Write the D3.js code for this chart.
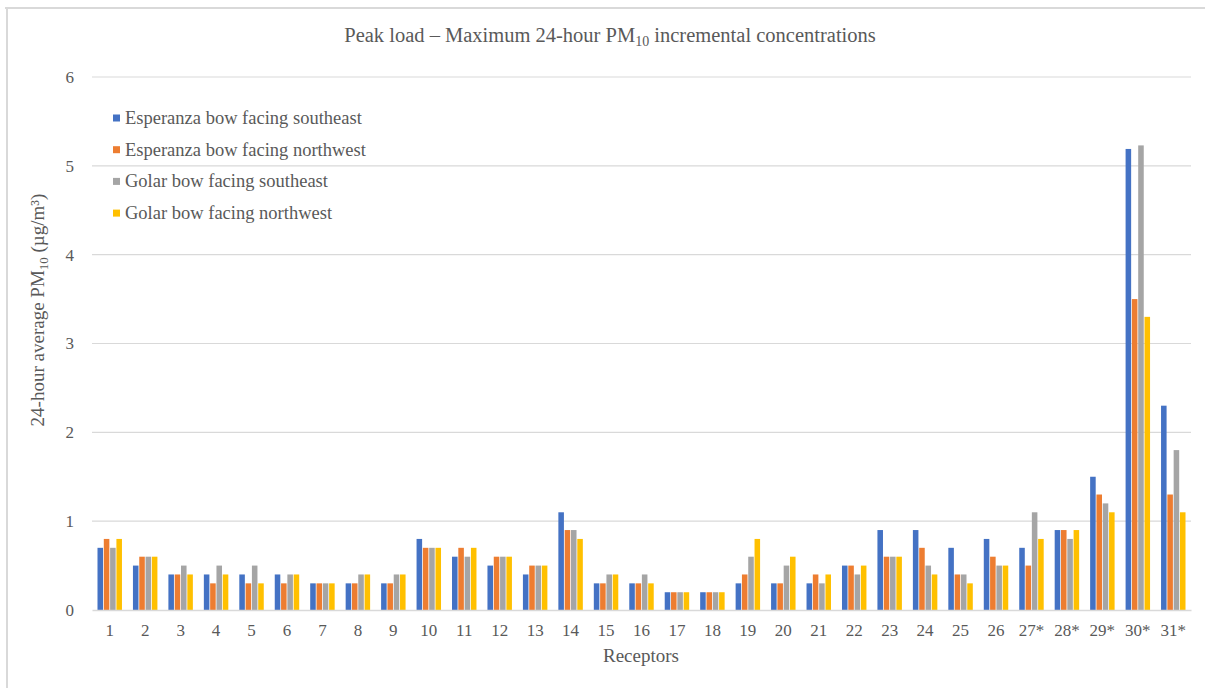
<!DOCTYPE html>
<html><head><meta charset="utf-8">
<script src="https://cdn.jsdelivr.net/npm/d3@7"></script>
<style>body{margin:0;background:#fff}svg{display:block}svg text{font-family:"Liberation Serif","DejaVu Serif",serif}</style>
</head><body>
<svg id="c" width="1205" height="688"></svg>
<script>
const categories = ["1","2","3","4","5","6","7","8","9","10","11","12","13","14","15","16","17","18","19","20","21","22","23","24","25","26","27*","28*","29*","30*","31*"];
const seriesNames = ["Esperanza bow facing southeast","Esperanza bow facing northwest","Golar bow facing southeast","Golar bow facing northwest"];
const esperanzaSE = [0.7,0.5,0.4,0.4,0.4,0.4,0.3,0.3,0.3,0.8,0.6,0.5,0.4,1.1,0.3,0.3,0.2,0.2,0.3,0.3,0.3,0.5,0.9,0.9,0.7,0.8,0.7,0.9,1.5,5.19,2.3];
const esperanzaNW = [0.8,0.6,0.4,0.3,0.3,0.3,0.3,0.3,0.3,0.7,0.7,0.6,0.5,0.9,0.3,0.3,0.2,0.2,0.4,0.3,0.4,0.5,0.6,0.7,0.4,0.6,0.5,0.9,1.3,3.5,1.3];
const golarSE     = [0.7,0.6,0.5,0.5,0.5,0.4,0.3,0.4,0.4,0.7,0.6,0.6,0.5,0.9,0.4,0.4,0.2,0.2,0.6,0.5,0.3,0.4,0.6,0.5,0.4,0.5,1.1,0.8,1.2,5.23,1.8];
const golarNW     = [0.8,0.6,0.4,0.4,0.3,0.4,0.3,0.4,0.4,0.7,0.7,0.6,0.5,0.8,0.4,0.3,0.2,0.2,0.8,0.6,0.4,0.5,0.6,0.4,0.3,0.5,0.8,0.9,1.1,3.3,1.1];
const yTicks = [0,1,2,3,4,5,6];
const colors = ["#4472C4","#ED7D31","#A5A5A5","#FFC000"];

(function(){
const seriesValues = [esperanzaSE, esperanzaNW, golarSE, golarNW];
const svg = d3.select("#c");
const textCol = "#595959";

// frame
svg.append("line").attr("x1",5).attr("x2",1205).attr("y1",8).attr("y2",8).attr("stroke","#d9d9d9").attr("stroke-width",2);
svg.append("line").attr("x1",7).attr("x2",7).attr("y1",8).attr("y2",688).attr("stroke","#d9d9d9").attr("stroke-width",2);

const pL = 92, pR = 1191, pT = 77, pB = 610;
const x = d3.scaleBand().domain(categories).range([pL, pR]).paddingInner(0.31).paddingOuter(0.155);
const xs = d3.scaleBand().domain(d3.range(4)).range([0, x.bandwidth()]).paddingInner(0.12);
const y = d3.scaleLinear().domain([0,6]).range([pB, pT]);

// gridlines
svg.append("g").selectAll("line").data(yTicks.filter(d=>d>0)).join("line")
  .attr("x1",pL).attr("x2",pR).attr("y1",d=>y(d)).attr("y2",d=>y(d))
  .attr("stroke","#d9d9d9").attr("stroke-width",1.2);

// y axis labels
const yAxis = d3.axisLeft(y).tickValues(yTicks).tickSize(0).tickPadding(18).tickFormat(d3.format("d"));
const ga = svg.append("g").attr("transform",`translate(${pL},0)`).call(yAxis);
ga.attr("font-family",null);
ga.select(".domain").remove();
ga.selectAll("text").attr("font-size",17).attr("fill",textCol);

// bars
const data = [];
categories.forEach((c,i)=>seriesValues.forEach((s,j)=>data.push({c,j,v:s[i]})));
svg.append("g").selectAll("rect").data(data).join("rect")
  .attr("x",d=>x(d.c)+xs(d.j)).attr("width",xs.bandwidth())
  .attr("y",d=>y(d.v)).attr("height",d=>y(0)-y(d.v))
  .attr("fill",d=>colors[d.j]);

// x axis
const xAxis = d3.axisBottom(x).tickSize(0).tickPadding(14);
const gx = svg.append("g").attr("transform",`translate(0,${pB})`).call(xAxis);
gx.attr("font-family",null);
gx.select(".domain").attr("stroke","#d9d9d9").attr("stroke-width",1.5);
gx.selectAll("text").attr("font-size",17).attr("fill",textCol);

// title
const t = svg.append("text").attr("x",610).attr("y",42).attr("text-anchor","middle")
  .attr("font-size",20.5).attr("fill",textCol);
t.append("tspan").text("Peak load \u2013  Maximum 24-hour PM");
t.append("tspan").attr("font-size",14).attr("dy",4).text("10");
t.append("tspan").attr("dy",-4).text(" incremental concentrations");

// y label
const yl = svg.append("text").attr("transform","translate(44,310) rotate(-90)").attr("text-anchor","middle")
  .attr("font-size",19).attr("fill",textCol);
yl.append("tspan").text("24-hour average PM");
yl.append("tspan").attr("font-size",13).attr("dy",4).text("10");
yl.append("tspan").attr("dy",-4).text(" (\u00b5g/m\u00b3)");

// x label
svg.append("text").attr("x",641).attr("y",662).attr("text-anchor","middle")
  .attr("font-size",19).attr("fill",textCol).text("Receptors");

// legend
const lg = svg.append("g").selectAll("g").data(seriesNames).join("g")
  .attr("transform",(d,i)=>`translate(113,${118 + i*31.7})`);
lg.append("rect").attr("x",0).attr("y",-3.5).attr("width",7).attr("height",7).attr("fill",(d,i)=>colors[i]);
lg.append("text").attr("x",12).attr("y",6).attr("font-size",18.5).attr("fill",textCol).text(d=>d);
})();
</script>
</body></html>
